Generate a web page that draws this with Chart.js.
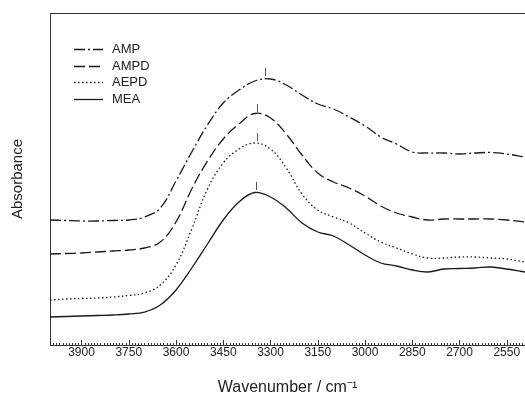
<!DOCTYPE html>
<html lang="en">
  <head>
    <meta charset="UTF-8" />
    <title>FTIR spectra - amine solutions</title>
    <script src="https://cdn.jsdelivr.net/npm/chart.js"></script>
    <style>
      body { margin: 0; background: #fff; }
      #wrap { width: 525px; height: 394px; }
    </style>
  </head>
  <body>
    <div id="wrap"><canvas id="spectra" width="525" height="394"></canvas></div>

    <script>
      // wavenumber grid (cm-1) and absorbance (arbitrary units, curves offset)
      const wavenumbers = [4000, 3950, 3900, 3850, 3800, 3750, 3700, 3650, 3600, 3550, 3500, 3450, 3400, 3350, 3300, 3250,
        3200, 3150, 3100, 3050, 3000, 2950, 2900, 2850, 2800, 2750, 2700, 2650, 2600, 2550, 2492];
      const amp = [1.25, 1.245, 1.24, 1.24, 1.245, 1.25, 1.28, 1.37, 1.64, 1.93, 2.20, 2.42, 2.55, 2.64, 2.66, 2.60,
        2.50, 2.41, 2.36, 2.28, 2.19, 2.08, 2.01, 1.93, 1.92, 1.92, 1.91, 1.92, 1.925, 1.91, 1.88];
      const ampd = [0.91, 0.915, 0.92, 0.93, 0.94, 0.95, 0.97, 1.03, 1.23, 1.56, 1.84, 2.06, 2.21, 2.315, 2.27, 2.11,
        1.90, 1.72, 1.63, 1.57, 1.49, 1.39, 1.32, 1.28, 1.25, 1.26, 1.26, 1.26, 1.26, 1.25, 1.23];
      const aepd = [0.45, 0.46, 0.465, 0.47, 0.48, 0.495, 0.52, 0.60, 0.80, 1.16, 1.56, 1.82, 1.96, 2.02, 1.96, 1.77,
        1.51, 1.35, 1.28, 1.22, 1.12, 1.03, 0.97, 0.91, 0.87, 0.87, 0.88, 0.88, 0.87, 0.86, 0.83];
      const mea = [0.28, 0.285, 0.29, 0.295, 0.30, 0.31, 0.33, 0.40, 0.55, 0.77, 1.01, 1.25, 1.43, 1.525, 1.48, 1.37,
        1.22, 1.13, 1.09, 1.00, 0.90, 0.82, 0.79, 0.75, 0.73, 0.76, 0.765, 0.77, 0.78, 0.76, 0.73];

      const seriesNames = ["AMP", "AMPD", "AEPD", "MEA"];
      const xTicks = [3900, 3750, 3600, 3450, 3300, 3150, 3000, 2850, 2700, 2550];
      // band maxima marked with a small bar above each curve
      const peakWavenumbers = [3317, 3342, 3344, 3347];
      const peakValues = [2.67, 2.31, 2.02, 1.53];

      const font = "'Liberation Sans', Arial, Helvetica, sans-serif";
      const ink = "#1a1a1a";

      const toPoints = (ys) => wavenumbers.map((w, i) => ({ x: w, y: ys[i] }));
      const dashes = [[11, 3, 2, 3], [11, 4], [1.5, 2.5], []];

      const datasets = [amp, ampd, aepd, mea].map((ys, i) => ({
        label: seriesNames[i],
        data: toPoints(ys),
        borderColor: ink,
        borderWidth: 1.3,
        borderDash: dashes[i],
        pointRadius: 0,
        tension: 0.4,
        fill: false,
      }));

      // frame top, inward ticks, peak bars and the legend inside the plot
      const extras = {
        id: "extras",
        afterDraw(chart) {
          const { ctx, chartArea: area } = chart;
          const xs = chart.scales.x;
          const ys = chart.scales.y;
          ctx.save();
          ctx.strokeStyle = "#333";
          ctx.lineWidth = 1;
          ctx.beginPath();
          ctx.moveTo(area.left, area.top + 0.5);
          ctx.lineTo(area.right, area.top + 0.5);
          ctx.stroke();

          ctx.beginPath();
          for (let v = 3990; v >= xs.min; v -= 10) {
            const px = Math.round(xs.getPixelForValue(v)) + 0.5;
            const len = (3900 - v) % 150 === 0 ? 5 : 2;
            ctx.moveTo(px, area.bottom);
            ctx.lineTo(px, area.bottom - len);
          }
          ctx.stroke();

          ctx.strokeStyle = "#555";
          ctx.beginPath();
          peakWavenumbers.forEach((w, i) => {
            const px = Math.round(xs.getPixelForValue(w)) + 0.5;
            const py = ys.getPixelForValue(peakValues[i]);
            ctx.moveTo(px, py - 2);
            ctx.lineTo(px, py - 10);
          });
          ctx.stroke();

          ctx.font = "13px " + font;
          ctx.textBaseline = "middle";
          ctx.fillStyle = "#222";
          chart.data.datasets.forEach((ds, i) => {
            const y = Math.round(49 + i * 16.6) + 0.5;
            ctx.strokeStyle = ink;
            ctx.lineWidth = 1.3;
            ctx.setLineDash(ds.borderDash);
            ctx.beginPath();
            ctx.moveTo(74, y);
            ctx.lineTo(103, y);
            ctx.stroke();
            ctx.setLineDash([]);
            ctx.fillText(ds.label, 112, y);
          });
          ctx.restore();
        },
      };

      new Chart(document.getElementById("spectra"), {
        type: "line",
        data: { datasets: datasets },
        options: {
          responsive: false,
          animation: false,
          layout: { padding: { top: 13, right: 0, bottom: 0, left: 0 } },
          plugins: { legend: { display: false }, tooltip: { enabled: false } },
          scales: {
            x: {
              type: "linear",
              reverse: true,
              min: 2492,
              max: 4000,
              afterBuildTicks: (scale) => {
                scale.ticks = xTicks.map((v) => ({ value: v }));
              },
              afterFit: (scale) => {
                scale.height = 49;
              },
              ticks: {
                autoSkip: false,
                maxRotation: 0,
                padding: 0,
                color: "#222",
                font: { family: font, size: 12 },
                callback: (v) => String(v),
              },
              grid: { display: false, drawTicks: false },
              border: { display: true, color: "#333", width: 1 },
              title: {
                display: true,
                text: "Wavenumber / cm\u207B\u00B9",
                color: "#222",
                font: { family: font, size: 16, lineHeight: 1 },
                padding: { top: 0, bottom: -2 },
              },
            },
            y: {
              min: 0,
              max: 3.32,
              afterFit: (scale) => {
                scale.width = 50;
              },
              ticks: { display: false },
              grid: { display: false, drawTicks: false },
              border: { display: true, color: "#333", width: 1 },
              title: {
                display: true,
                text: "Absorbance",
                color: "#222",
                font: { family: font, size: 15, lineHeight: 1.2 },
                padding: { top: 9, bottom: 0 },
              },
            },
          },
        },
        plugins: [extras],
      });
    </script>
  </body>
</html>
